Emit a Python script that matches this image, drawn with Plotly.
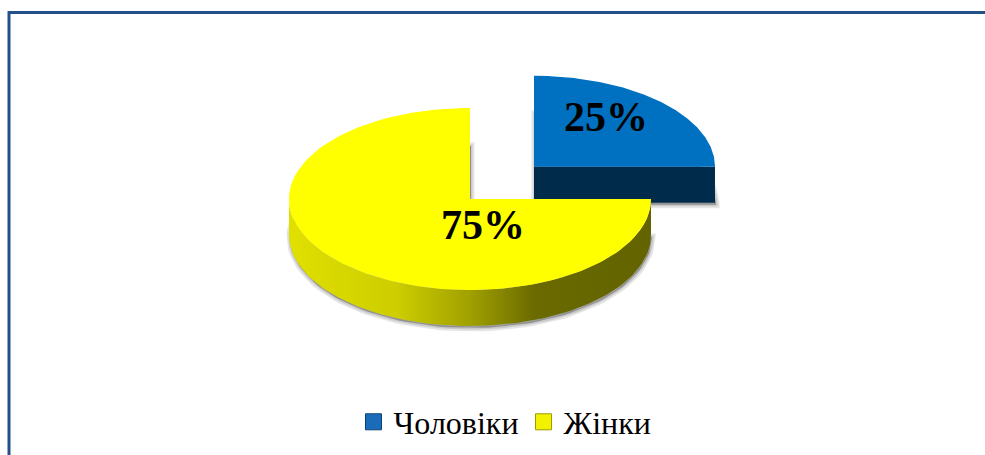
import numpy as np
import plotly.graph_objects as go

# Survey split by sex
labels = ["Чоловіки", "Жінки"]
values = [25, 75]

# Styling of the 3-D pie
top_colors = ["#0070c0", "#ffff00"]
front_colors = ["#002b4a", "#6a6a00"]
side_scales = [
    [[0, "#003a66"], [1, "#002b4a"]],
    [[0, "#e0e000"], [0.3, "#cdcd00"], [0.5, "#a0a000"], [0.68, "#6a6a00"], [1, "#636300"]],
]
legend_colors = ["#1a6cb8", "#f2f200"]
legend_lines = ["#0b3f75", "#9a9a00"]

W, H = 985, 455
CX, CY = 470, 199          # centre of the pie's top face (page pixels)
RX, RY = 181, 91           # ellipse radii of the tilted disc
DEPTH = 36                 # thickness of the slab
EXPLODE = [0.5, 0.0]       # radial pull-out of each slice
START = 90                 # first slice starts at 12 o'clock, runs clockwise
LABEL_POS = [(0.40, 0.55), (0.07, -0.29)]  # label offset in radii units


def pt(cx, cy, ang):
    a = np.radians(ang)
    return cx + RX * np.cos(a), cy - RY * np.sin(a)


def arc(cx, cy, a_from, a_to, n=120):
    a = np.radians(np.linspace(a_from, a_to, n))
    return cx + RX * np.cos(a), cy - RY * np.sin(a)


def poly_trace(xs, ys, **kw):
    return go.Scatter(x=list(xs), y=list(ys), mode="lines", fill="toself",
                      hoverinfo="skip", showlegend=False, **kw)


total = float(sum(values))
slices = []
cum = 0.0
for i, v in enumerate(values):
    a_hi = START - cum / total * 360.0
    a_lo = a_hi - v / total * 360.0
    mid = np.radians((a_hi + a_lo) / 2)
    ox = EXPLODE[i] * RX * np.cos(mid)
    oy = -EXPLODE[i] * RY * np.sin(mid)
    slices.append(dict(lo=a_lo, hi=a_hi, cx=CX + ox, cy=CY + oy))
    cum += v

fig = go.Figure()

# soft drop shadows under every slice
for s in slices:
    bx, by = arc(s["cx"] + 1, s["cy"] + DEPTH + 2, s["lo"], s["hi"])
    xs = [s["cx"] + 1] + list(bx) + [s["cx"] + 1]
    ys = [s["cy"] + DEPTH + 2] + list(by) + [s["cy"] + DEPTH + 2]
    fig.add_trace(poly_trace(xs, ys, fillcolor="rgba(0,0,0,0.28)",
                             line=dict(color="rgba(0,0,0,0.10)", width=7)))
    fig.add_trace(poly_trace(xs, ys, fillcolor="rgba(0,0,0,0)",
                             line=dict(color="rgba(0,0,0,0.12)", width=3)))

# slabs, back slice first so the front one overlaps it
for i, s in enumerate(slices):
    cx, cy = s["cx"], s["cy"]
    lo, hi = s["lo"], s["hi"]

    # flat radial faces that turn toward the viewer
    for edge, sign in ((lo, 1), (hi, -1)):
        normal = np.radians(edge - 90 * sign)
        if np.sin(normal) < -1e-6:
            ex, ey = pt(cx, cy, edge)
            fig.add_trace(poly_trace(
                [cx, ex, ex, cx, cx], [cy, ey, ey + DEPTH, cy + DEPTH, cy],
                fillcolor=front_colors[i], line=dict(width=0)))

    # curved outer wall on the near half of the disc
    segs = []
    for k in range(-1, 2):
        a0 = max(lo, 180 + 360 * k)
        a1 = min(hi, 360 + 360 * k)
        if a1 - a0 > 1e-6:
            segs.append((a0, a1))
    for a0, a1 in segs:
        tx, ty = arc(cx, cy, a0, a1)
        bx, by = arc(cx, cy + DEPTH, a1, a0)
        fig.add_trace(go.Scatter(
            x=list(tx) + list(bx) + [tx[0]], y=list(ty) + list(by) + [ty[0]],
            mode="lines", fill="toself", line=dict(width=0),
            fillgradient=dict(type="horizontal", colorscale=side_scales[i]),
            hoverinfo="skip", showlegend=False))

    # top face
    tx, ty = arc(cx, cy, lo, hi)
    fig.add_trace(poly_trace([cx] + list(tx) + [cx], [cy] + list(ty) + [cy],
                             fillcolor=top_colors[i], line=dict(width=0)))

# percentage labels
for i, s in enumerate(slices):
    fx, fy = LABEL_POS[i]
    fig.add_annotation(x=s["cx"] + fx * RX, y=s["cy"] - fy * RY,
                       text=f"{values[i] / total * 100:.0f}%", showarrow=False,
                       xanchor="center", yanchor="middle",
                       font=dict(family="Liberation Serif", size=42, color="black",
                                 weight="bold"))

# legend entries
for i, name in enumerate(labels):
    fig.add_trace(go.Scatter(x=[None], y=[None], mode="markers", name=name,
                             marker=dict(symbol="square", size=16, color=legend_colors[i],
                                         line=dict(color=legend_lines[i], width=1))))

# frame of the chart area
fig.add_shape(type="path", path=f"M 9 {H} L 9 12.5 L {W} 12.5",
              line=dict(color="#24508a", width=3), xref="x", yref="y")

fig.update_layout(
    width=W, height=H, autosize=False,
    margin=dict(l=0, r=0, t=0, b=0),
    paper_bgcolor="white", plot_bgcolor="white",
    xaxis=dict(range=[0, W], visible=False, fixedrange=True),
    yaxis=dict(range=[H, 0], visible=False, fixedrange=True),
    showlegend=True,
    legend=dict(orientation="h", x=505 / W, xanchor="center",
                y=(H - 422) / H, yanchor="middle",
                font=dict(family="Liberation Serif", size=32, color="black"),
                itemwidth=30, bgcolor="rgba(0,0,0,0)", traceorder="normal"),
)

fig.write_html("out.html")
